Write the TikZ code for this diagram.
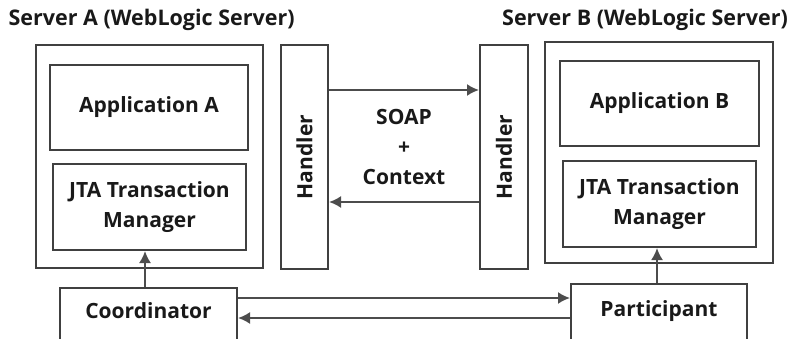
\documentclass[tikz,border=0pt]{standalone}
\usepackage{fontspec}
\setmainfont{Open Sans}
\usetikzlibrary{positioning,arrows.meta}

\begin{document}
\begin{tikzpicture}[x=1pt,y=-1pt,
    box/.style={rectangle, draw=black!75, line width=2pt, inner sep=0pt},
    lbl/.style={font=\bfseries\fontsize{21}{30}\selectfont, text=black!90, align=center},
    arr/.style={draw=black!70, line width=2pt, -{Latex[length=12pt,width=12pt]}}]
    \useasboundingbox (0,0) rectangle (791,339);
    \clip (0,0) rectangle (791,339);
    % server A
    \node[box, minimum width=227, minimum height=223] (srvA) at (149.5,156.5) {};
    \node[box, minimum width=198, minimum height=85] (appA) at (149,107.5) {};
    \node[box, minimum width=193, minimum height=86] (jtaA) at (149.5,207) {};
    \node[lbl] at (appA) {Application A};
    \node[lbl] at (jtaA) {JTA Transaction\\Manager};
    \node[lbl, anchor=west, font=\bfseries\fontsize{21.5}{30}\selectfont] (titA) at (5,20) {Server A (WebLogic Server)};
    % server B
    \node[box, minimum width=228, minimum height=221] (srvB) at (659,152.5) {};
    \node[box, minimum width=199, minimum height=85] (appB) at (659.5,103.5) {};
    \node[box, minimum width=193, minimum height=86] (jtaB) at (659.5,204) {};
    \node[lbl] at (appB) {Application B};
    \node[lbl] at (jtaB) {JTA Transaction\\Manager};
    \node[lbl, font=\bfseries\fontsize{21.5}{30}\selectfont] (titB) at (645,20) {Server B (WebLogic Server)};
    % handlers
    \node[box, minimum width=47, minimum height=224] (hndA) at (304.5,157) {};
    \node[box, minimum width=48, minimum height=224] (hndB) at (504,157) {};
    \node[lbl, rotate=90] at (hndA) {Handler};
    \node[lbl, rotate=90] at (hndB) {Handler};
    \node[lbl] (soap) at (404,147) {SOAP\\+\\Context};
    \draw[arr] ([yshift=67pt]hndA.east) -- ([yshift=67pt]hndB.west);
    \draw[arr] ([yshift=-45pt]hndB.west) -- ([yshift=-45pt]hndA.east);
    % coordinator and participant
    \node[box, minimum width=177, minimum height=80, anchor=north] (coord) at (148.5,287) {};
    \node[box, minimum width=176, minimum height=80, anchor=north] (part) at (659,283) {};
    \node[lbl] at (148.5,311) {Coordinator};
    \node[lbl] at (659,311) {Participant};
    \draw[arr] ([xshift=-3.5pt]coord.north) -- ([xshift=-3.5pt]coord.north |- jtaA.south);
    \draw[arr] ([xshift=-2pt]part.north) -- ([xshift=-2pt]part.north |- jtaB.south);
    \coordinate (c1) at ([yshift=-11pt]coord.north east);
    \coordinate (c2) at ([yshift=-31pt]coord.north east);
    \draw[arr] (c1) -- (c1 -| part.west);
    \draw[arr] (c2 -| part.west) -- (c2);
\end{tikzpicture}
\end{document}
